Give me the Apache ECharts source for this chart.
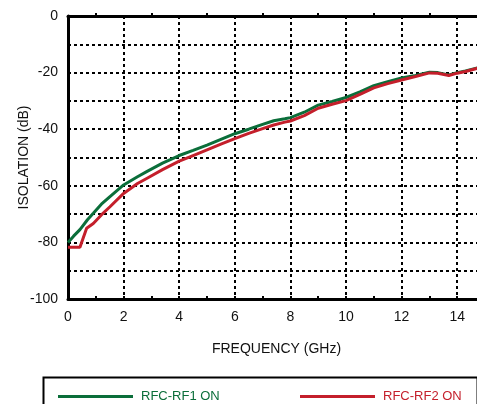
<!DOCTYPE html>
<html>
<head>
<meta charset="utf-8">
<script src="https://cdn.jsdelivr.net/npm/echarts@6/dist/echarts.min.js"></script>
<style>
  html, body { margin: 0; padding: 0; background: #fff; }
  #chart { width: 477px; height: 404px; }
</style>
</head>
<body>
<div id="chart"></div>
<script>
// Frequency points (GHz) and isolation (dB) for each switch path
const rf1Freq = [0, 0.2, 0.43, 0.7, 0.91, 1.2, 1.51, 2, 2.5, 2.83, 3.4, 4, 4.5, 5, 5.5, 6, 6.5, 7, 7.4, 7.8, 8, 8.5, 9, 9.5, 10, 10.5, 11, 11.5, 12, 12.5, 13, 13.3, 13.7, 14, 14.3, 14.75];
const rf1Iso  = [-80, -77.8, -75.5, -72, -69.7, -66.5, -63.8, -59.7, -56.8, -55, -52, -49.3, -47.5, -45.6, -43.6, -41.6, -40, -38.3, -37, -36.3, -35.9, -34, -31.5, -30.2, -28.8, -26.8, -24.6, -23.2, -21.9, -21, -19.9, -20, -20.8, -20, -19.4, -18.3];

const rf2Freq = [0, 0.43, 0.67, 0.91, 1.2, 1.51, 2, 2.5, 2.83, 3.4, 4, 4.5, 5, 5.5, 6, 6.5, 7, 7.4, 7.8, 8, 8.5, 9, 9.5, 10, 10.5, 11, 11.5, 12, 12.5, 13, 13.3, 13.7, 14, 14.3, 14.75];
const rf2Iso  = [-81.7, -81.7, -75, -73.3, -70.3, -67.4, -62.7, -59.2, -57.4, -54.3, -51.3, -49.3, -47.3, -45.3, -43.3, -41.5, -39.8, -38.5, -37.5, -37.1, -35.2, -32.6, -31.2, -29.9, -27.7, -25.4, -23.9, -22.6, -21.4, -20.1, -20.2, -21, -20.2, -19.6, -18.4];

const seriesNames = ['RFC-RF1 ON', 'RFC-RF2 ON'];
const seriesColors = ['#0b6e3a', '#c41f2b'];

const xTitle = 'FREQUENCY (GHz)';
const yTitle = 'ISOLATION (dB)';

const pairs = (xs, ys) => xs.map((x, i) => [x, ys[i]]);

const FONT = '"Liberation Sans", Arial, Helvetica, sans-serif';
const dashed = { show: true, lineStyle: { color: '#000', width: 2, type: [3, 3] } };

const chart = echarts.init(document.getElementById('chart'), null, { renderer: 'canvas' });

chart.setOption({
  animation: false,
  backgroundColor: '#fff',
  textStyle: { fontFamily: FONT },
  // the plot runs a little past the right edge of the page
  grid: { left: 68, top: 16, width: 417, height: 283, containLabel: false, outerBoundsMode: 'none' },
  xAxis: [
    {
      type: 'value', position: 'bottom', min: 0, max: 15, interval: 2,
      name: xTitle, nameLocation: 'middle', nameGap: 43, nameMoveOverlap: false,
      nameTextStyle: { fontSize: 14, color: '#111', fontFamily: FONT },
      axisLine: { show: true, onZero: false, lineStyle: { color: '#000', width: 3 } },
      axisTick: { show: true, inside: true, length: 3, lineStyle: { color: '#000', width: 2 } },
      minorTick: { show: true, splitNumber: 2, length: 3, lineStyle: { color: '#000', width: 2 } },
      axisLabel: {
        margin: 11, fontSize: 14, color: '#111', fontFamily: FONT,
        formatter: v => (v % 2 === 0 ? String(v) : '')
      },
      splitLine: dashed
    },
    {
      type: 'value', position: 'top', min: 0, max: 15, interval: 2,
      axisLine: { show: true, onZero: false, lineStyle: { color: '#000', width: 3 } },
      axisTick: { show: false },
      minorTick: { show: true, splitNumber: 2, length: 3, lineStyle: { color: '#000', width: 2 } },
      axisLabel: { show: false },
      splitLine: { show: false }
    }
  ],
  yAxis: {
    type: 'value', min: -100, max: 0, interval: 10,
    name: yTitle, nameLocation: 'middle', nameGap: 37, nameRotate: 90, nameMoveOverlap: false,
    nameTextStyle: { fontSize: 14, color: '#111', fontFamily: FONT },
    axisLine: { show: true, onZero: false, lineStyle: { color: '#000', width: 3 } },
    axisTick: { show: false },
    axisLabel: {
      margin: 10, fontSize: 14, color: '#111', fontFamily: FONT,
      formatter: v => (v % 20 === 0 ? String(v) : '')
    },
    splitLine: dashed
  },
  legend: [
    {
      data: [seriesNames[0]], left: 58, top: 390, padding: 0, icon: 'rect',
      itemWidth: 75, itemHeight: 3,
      textStyle: { color: seriesColors[0], fontSize: 13, fontFamily: FONT, padding: [0, 0, 0, 3] }
    },
    {
      data: [seriesNames[1]], left: 300, top: 390, padding: 0, icon: 'rect',
      itemWidth: 75, itemHeight: 3,
      textStyle: { color: seriesColors[1], fontSize: 13, fontFamily: FONT, padding: [0, 0, 0, 3] }
    }
  ],
  graphic: [
    {
      type: 'rect', left: 41, top: 375, silent: true,
      shape: { width: 434, height: 40 },
      style: { fill: 'none', stroke: '#000', lineWidth: 2 }
    }
  ],
  series: [
    {
      name: seriesNames[0], type: 'line', xAxisIndex: 0,
      data: pairs(rf1Freq, rf1Iso), showSymbol: false, symbol: 'none',
      lineStyle: { color: seriesColors[0], width: 3 }, itemStyle: { color: seriesColors[0] },
      z: 3
    },
    {
      name: seriesNames[1], type: 'line', xAxisIndex: 0,
      data: pairs(rf2Freq, rf2Iso), showSymbol: false, symbol: 'none',
      lineStyle: { color: seriesColors[1], width: 3 }, itemStyle: { color: seriesColors[1] },
      z: 4
    }
  ]
});
</script>
</body>
</html>
